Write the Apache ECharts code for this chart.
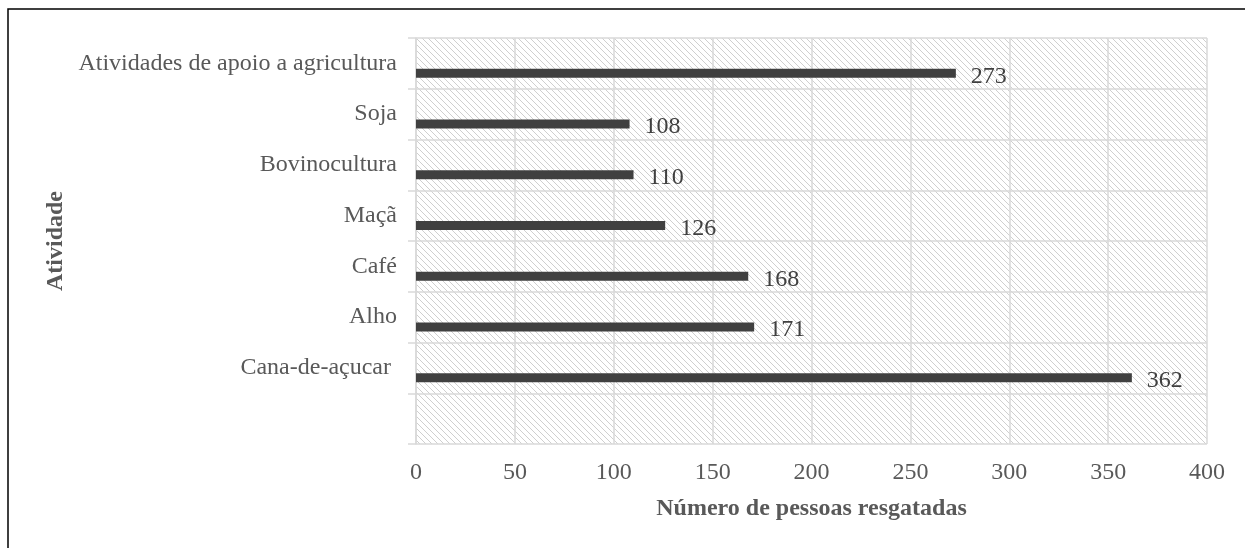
<!DOCTYPE html>
<html><head><meta charset="utf-8">
<script src="https://cdn.jsdelivr.net/npm/echarts@6/dist/echarts.min.js"></script>
<style>html,body{margin:0;padding:0;background:#fff}#c{width:1245px;height:548px}</style>
</head><body><div id="c"></div>
<script>
const categories = ['', 'Cana-de-açucar ', 'Alho', 'Café', 'Maçã', 'Bovinocultura', 'Soja', 'Atividades de apoio a agricultura'];
const values = [null, 362, 171, 168, 126, 110, 108, 273];
const xTicks = { min: 0, max: 400, interval: 50 };
const xTitle = 'Número de pessoas resgatadas';
const yTitle = 'Atividade';

function hatch() {
  const c = document.createElement('canvas');
  c.width = 6; c.height = 6;
  const g = c.getContext('2d');
  g.fillStyle = '#ffffff'; g.fillRect(0, 0, 6, 6);
  g.strokeStyle = '#cfcfcf'; g.lineWidth = 1;
  g.beginPath();
  g.moveTo(-1, -1); g.lineTo(7, 7);
  g.moveTo(-1, 5); g.lineTo(1, 7);
  g.moveTo(5, -1); g.lineTo(7, 1);
  g.stroke();
  return { image: c, repeat: 'repeat' };
}

const font = 'Liberation Serif';
const fs = 24;
const grid = '#d9d9d9';
const chart = echarts.init(document.getElementById('c'));
chart.setOption({
  animation: false,
  grid: { left: 416, right: 38, top: 38, bottom: 104, show: true, backgroundColor: hatch(), borderWidth: 0 },
  graphic: [{ type: 'rect', shape: { x: 8, y: 9, width: 1400, height: 700 }, style: { fill: 'none', stroke: '#000', lineWidth: 1.5 }, z: 100 }],
  xAxis: {
    type: 'value', min: xTicks.min, max: xTicks.max, interval: xTicks.interval,
    axisLine: { show: false }, axisTick: { show: false },
    splitLine: { show: true, lineStyle: { color: grid, width: 1.5 } },
    axisLabel: { color: '#595959', fontFamily: font, fontSize: fs, margin: 17 },
    name: xTitle, nameLocation: 'middle', nameGap: 53,
    nameTextStyle: { color: '#595959', fontFamily: font, fontSize: fs, fontWeight: 'bold' }
  },
  yAxis: {
    type: 'category', data: categories,
    axisLine: { show: true, lineStyle: { color: grid, width: 1.5 } },
    axisTick: { show: true, length: 8, lineStyle: { color: grid, width: 1.5 } },
    splitLine: { show: true, lineStyle: { color: grid, width: 1.5 } },
    axisLabel: { color: '#595959', fontFamily: font, fontSize: fs, margin: 19 },
    name: yTitle, nameLocation: 'middle', nameGap: 342,
    nameTextStyle: { color: '#595959', fontFamily: font, fontSize: fs, fontWeight: 'bold' }
  },
  series: [
    { type: 'bar', data: categories.map(() => null), barWidth: 9, barGap: '122%', itemStyle: { color: 'transparent' } },
    { type: 'bar', data: values, barWidth: 9, itemStyle: { color: '#404040' },
      label: { show: true, position: 'right', distance: 15, offset: [0, 3], color: '#404040', fontFamily: font, fontSize: fs } }
  ]
});
</script></body></html>
